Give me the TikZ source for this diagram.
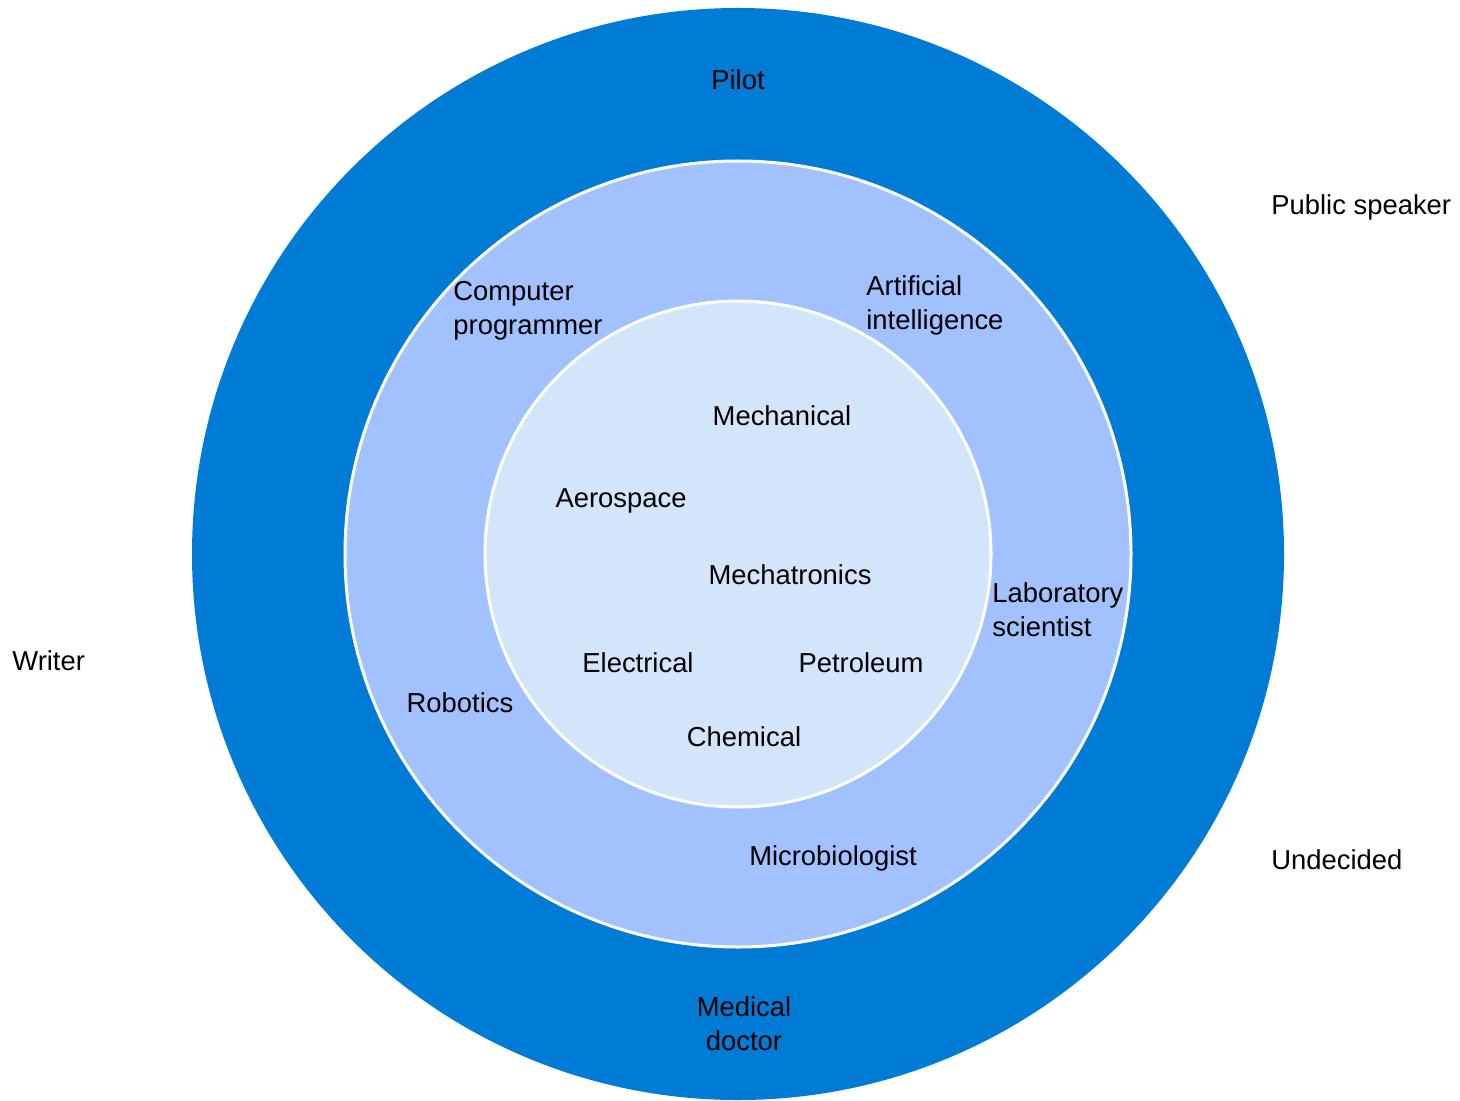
\documentclass[tikz,border=0pt]{standalone}
\usepackage{fontspec}
\setmainfont{Liberation Sans}
\definecolor{outerblue}{RGB}{0,124,214}
\definecolor{midblue}{RGB}{161,193,255}
\definecolor{innerblue}{RGB}{211,229,251}
\begin{document}
\begin{tikzpicture}[x=0.5pt,y=-0.5pt,
  lbl/.style={font=\fontsize{13.7pt}{17pt}\selectfont, text=black, inner sep=0pt},
  lblL/.style={lbl, anchor=west, align=left},
  lblC/.style={lbl, anchor=center, align=center},
  ring/.style={draw=white, line width=1.5pt}]
\useasboundingbox (0,0) rectangle (1460,1101);
\fill[outerblue] (738,554) circle[radius=273pt];
\filldraw[ring, fill=midblue] (738,554) circle[radius=196.5pt];
\filldraw[ring, fill=innerblue] (738,554) circle[radius=126.5pt];
% outer ring
\node[lblC] (pilot) at (738,80) {Pilot};
\node[lblC] (doctor) at (744,1024) {Medical\\doctor};
% outside
\node[lblL] (speaker) at (1271,207) {Public speaker};
\node[lblL] (writer) at (12,661) {Writer};
\node[lblL] (undecided) at (1271,860) {Undecided};
% middle ring
\node[lblL] (programmer) at (453,311) {Computer\\programmer};
\node[lblL] (ai) at (866,305) {Artificial\\intelligence};
\node[lblL] (lab) at (992,610) {Laboratory\\scientist};
\node[lblC] (robotics) at (460,703) {Robotics};
\node[lblC] (micro) at (833,858) {Microbiologist};
% inner
\node[lblC] (mech) at (782,416) {Mechanical};
\node[lblC] (aero) at (621,501) {Aerospace};
\node[lblC] (mechatronics) at (790,575) {Mechatronics};
\node[lblC] (electrical) at (638,663) {Electrical};
\node[lblC] (petroleum) at (861,663) {Petroleum};
\node[lblC] (chemical) at (744,737) {Chemical};
\end{tikzpicture}
\end{document}
